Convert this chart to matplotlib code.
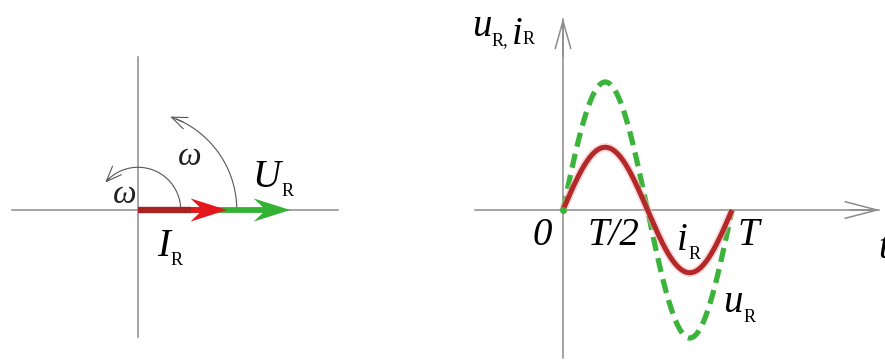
import numpy as np
import matplotlib
matplotlib.use("Agg")
import matplotlib.pyplot as plt

# --- data ---
# phasor diagram (current phasor = 1 unit)
phasor_names = ["I", "U"]
phasor_mag = [1.0, 1.71]
phasor_colors = ["#e3171c", "#33b233"]
arc_radius = [0.48, 1.11]        # the two rotation arrows (omega)
arc_end_deg = [140, 71]

# waveforms over one period T (time in units of T)
period = 1.0
u_amp = 1.0
i_amp = 0.49
time_labels = ["0", "T/2", "T"]

SERIF = "Liberation Serif"
GRAY = "#8c8c8c"

fig = plt.figure(figsize=(8.85, 3.63), dpi=100)
fig.patch.set_facecolor("white")


def sub_label(ax, x, y, main, sub, size=28, sub_dy=-3):
    t = ax.text(x, y, main, fontsize=size, family=SERIF, style="italic",
                ha="left", va="baseline")
    s = ax.annotate(sub, xy=(1, 0), xycoords=t, xytext=(0.5, sub_dy),
                    textcoords="offset points", fontsize=size * 0.47,
                    family=SERIF, ha="left", va="bottom")
    return t, s


# ---------------- left: phasor diagram ----------------
ax1 = fig.add_axes([0, 0, 442 / 885, 1])
ax1.set_xlim(-138 / 89, 304 / 89)
ax1.set_ylim(-153 / 89, 210 / 89)
ax1.axis("off")

ax1.plot([-1.416, 2.247], [0, 0], color=GRAY, lw=1.1, zorder=1)
ax1.plot([0, 0], [-1.427, 1.719], color=GRAY, lw=1.1, zorder=1)

# green (voltage) first, red (current) on top
for mag, col in zip(phasor_mag[::-1], phasor_colors[::-1]):
    ax1.arrow(0, 0, mag, 0, width=0.065, head_width=0.26, head_length=0.41,
              overhang=0.25, length_includes_head=True, color=col,
              lw=0, zorder=3)
# darker shaft of the current phasor
ax1.plot([0, phasor_mag[0] - 0.4], [0, 0], color="#a8231f", lw=4.6,
         solid_capstyle="butt", zorder=4)

for r, end in zip(arc_radius, arc_end_deg):
    th = np.radians(np.linspace(0, end - 4, 80))
    ax1.plot(r * np.cos(th), r * np.sin(th), color="#555555", lw=0.8,
             zorder=2)
    t0, t1 = np.radians(end - 8), np.radians(end)
    ax1.annotate("", xy=(r * np.cos(t1), r * np.sin(t1)),
                 xytext=(r * np.cos(t0), r * np.sin(t0)),
                 arrowprops=dict(arrowstyle="->,head_length=0.55,head_width=0.22",
                                 color="#555555", lw=0.8, mutation_scale=20,
                                 shrinkA=0, shrinkB=0))

ax1.text(0.45, 0.51, "ω", fontsize=24, family=SERIF, style="italic",
         ha="left", va="baseline", color="#222222")
ax1.text(-0.28, 0.08, "ω", fontsize=24, family=SERIF, style="italic",
         ha="left", va="baseline", color="#222222")
sub_label(ax1, 1.29, 0.26, "U", "R")
sub_label(ax1, 0.21, -0.52, "I", "R")

# ---------------- right: waveforms ----------------
ax2 = fig.add_axes([442 / 885, 0, 443 / 885, 1])
ax2.set_xlim(-121 / 169, 322 / 169)
ax2.set_ylim(-153 / 128, 210 / 128)
ax2.axis("off")

ax2.plot([-0.521, 1.87], [0, 0], color=GRAY, lw=1.1, zorder=1)
ax2.plot([0, 0], [-1.156, 1.49], color=GRAY, lw=1.1, zorder=1)
ax2.annotate("", xy=(1.876, 0), xytext=(1.70, 0),
             arrowprops=dict(arrowstyle="->,head_length=1.15,head_width=0.3",
                             color=GRAY, lw=1.1, mutation_scale=20,
                             shrinkA=0, shrinkB=0))
ax2.annotate("", xy=(0, 1.50), xytext=(0, 1.2),
             arrowprops=dict(arrowstyle="->,head_length=1.0,head_width=0.28",
                             color=GRAY, lw=1.1, mutation_scale=20,
                             shrinkA=0, shrinkB=0))

t = np.linspace(0, period, 300)
u = u_amp * np.sin(2 * np.pi * t / period)
i = i_amp * np.sin(2 * np.pi * t / period)

ax2.plot(t, u, color="#3cb43c", lw=3.8, dashes=(2.7, 1.4), zorder=3)
ax2.plot(t, i, color="#f4b0b0", lw=6.0, alpha=0.5, zorder=4,
         solid_capstyle="butt")
ax2.plot(t, i, color="#b3292a", lw=3.6, zorder=5, solid_capstyle="butt")
ax2.plot([0], [0], "o", color="#3cb43c", ms=4, zorder=6)

ax2.text(-0.178, -0.273, time_labels[0], fontsize=28, family=SERIF,
         style="italic", ha="left", va="baseline")
ax2.text(0.142, -0.273, time_labels[1], fontsize=28, family=SERIF,
         style="italic", ha="left", va="baseline")
ax2.text(1.03, -0.273, time_labels[2], fontsize=28, family=SERIF,
         style="italic", ha="left", va="baseline")
sub_label(ax2, 0.675, -0.31, "i", "R")
sub_label(ax2, 0.947, -0.80, "u", "R")
sub_label(ax2, 1.864, -0.375, "t", "")

# y label  u_R, i_R
tu, su = sub_label(ax2, -0.54, 1.36, "u", "R,")
ti = ax2.annotate("i", xy=(1, 0), xycoords=su, xytext=(2, -3),
                  textcoords="offset points", fontsize=28, family=SERIF,
                  style="italic", ha="left", va="bottom")
ax2.annotate("R", xy=(1, 0), xycoords=ti, xytext=(0.5, 4),
             textcoords="offset points", fontsize=13, family=SERIF,
             ha="left", va="bottom")

fig.savefig("out.png", dpi=100, facecolor="white")
